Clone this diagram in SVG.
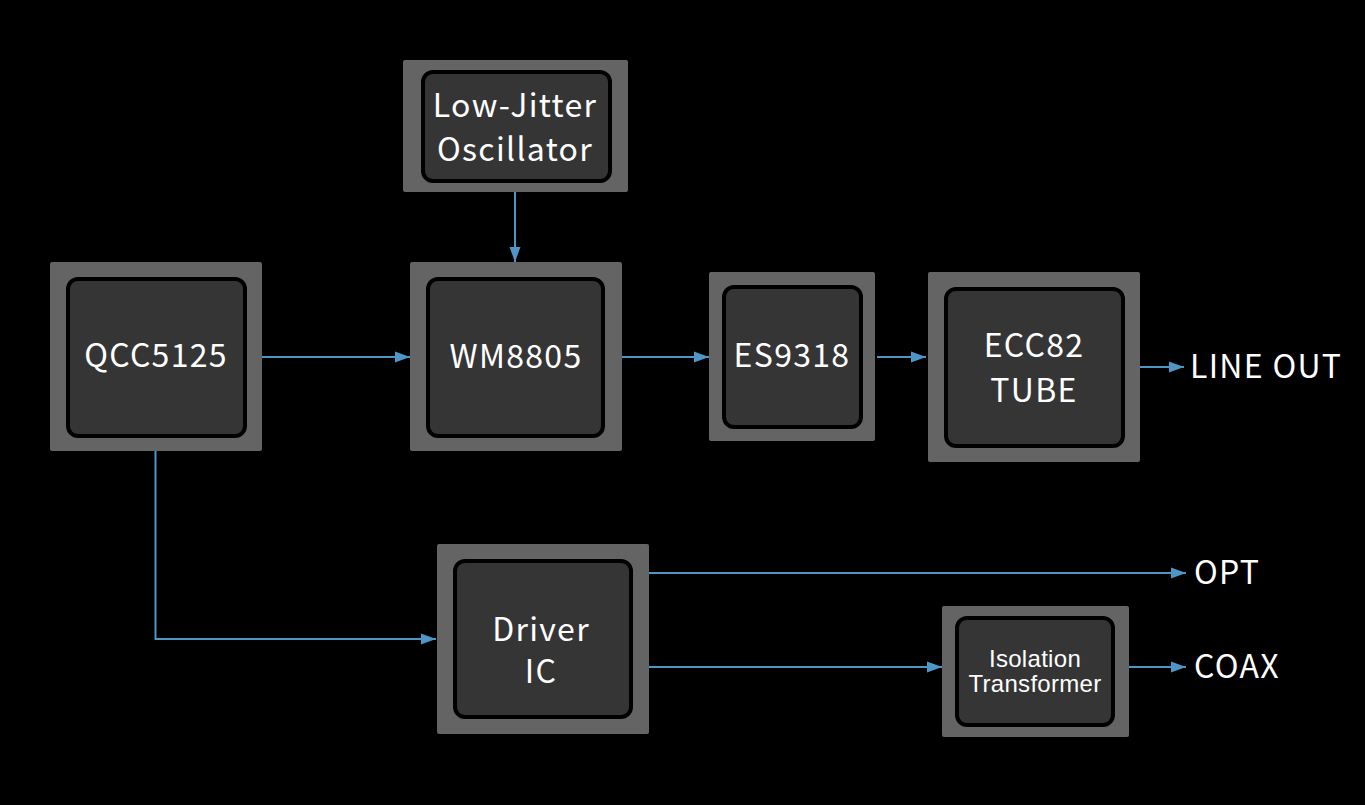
<svg xmlns="http://www.w3.org/2000/svg" width="1365" height="805" viewBox="0 0 1365 805">
<defs>
<marker id="arr" markerUnits="userSpaceOnUse" markerWidth="16" markerHeight="12" refX="15" refY="6" orient="auto">
<path d="M0,0.5 L15,6 L0,11.5 z" fill="#4d96c5"/>
</marker>
</defs>
<style>
.outer{fill:#646464}
.inner{fill:#353535;stroke:#000;stroke-width:4}
.t{font-family:"Noto Sans CJK SC","Noto Sans",sans-serif;font-size:32px;fill:#fff;text-anchor:middle;letter-spacing:1.3px}
.lbl{font-family:"Noto Sans CJK SC","Noto Sans",sans-serif;font-size:32px;fill:#fff;letter-spacing:1.3px}
.s{font-family:"Liberation Sans",Arial,sans-serif;font-size:24px;fill:#fff;text-anchor:middle;letter-spacing:0.3px}
.c{fill:none;stroke:#4d96c5;stroke-width:2}
</style>
<rect width="1365" height="805" fill="#000"/>
<g id="connectors">
<path class="c" d="M515,192 V262" marker-end="url(#arr)"/>
<path class="c" d="M262,357 H410" marker-end="url(#arr)"/>
<path class="c" d="M622,357 H709" marker-end="url(#arr)"/>
<path class="c" d="M877,357 H926" marker-end="url(#arr)"/>
<path class="c" d="M1140,367 H1184" marker-end="url(#arr)"/>
<path class="c" d="M155.5,451 V639 H436" marker-end="url(#arr)"/>
<path class="c" d="M649,573 H1186" marker-end="url(#arr)"/>
<path class="c" d="M649,667 H942" marker-end="url(#arr)"/>
<path class="c" d="M1129,667 H1186" marker-end="url(#arr)"/>
</g>
<g id="osc">
<rect class="outer" x="403" y="60" width="225" height="132" rx="2"/>
<rect class="inner" x="423" y="72" width="187" height="109" rx="10"/>
<text class="t" x="515" y="117">Low-Jitter</text>
<text class="t" x="515" y="161">Oscillator</text>
</g>
<g id="qcc">
<rect class="outer" x="50" y="262" width="212" height="189" rx="2"/>
<rect class="inner" x="68" y="279" width="177" height="157" rx="10"/>
<text class="t" x="156" y="367">QCC5125</text>
</g>
<g id="wm">
<rect class="outer" x="410" y="262" width="212" height="189" rx="2"/>
<rect class="inner" x="428" y="279" width="175" height="157" rx="10"/>
<text class="t" x="516" y="368">WM8805</text>
</g>
<g id="es">
<rect class="outer" x="709" y="272" width="166" height="169" rx="2"/>
<rect class="inner" x="724" y="287" width="137" height="140" rx="10"/>
<text class="t" x="792" y="367">ES9318</text>
</g>
<g id="ecc">
<rect class="outer" x="928" y="272" width="212" height="190" rx="2"/>
<rect class="inner" x="946" y="289" width="177" height="157" rx="10"/>
<text class="t" x="1034" y="357">ECC82</text>
<text class="t" x="1034" y="402">TUBE</text>
</g>
<g id="driver">
<rect class="outer" x="437" y="544" width="212" height="190" rx="2"/>
<rect class="inner" x="455" y="561" width="176" height="156" rx="10"/>
<text class="t" x="541" y="641">Driver</text>
<text class="t" x="541" y="683">IC</text>
</g>
<g id="iso">
<rect class="outer" x="942" y="606" width="187" height="131" rx="2"/>
<rect class="inner" x="957" y="618" width="156" height="107" rx="10"/>
<text class="s" x="1035" y="667">Isolation</text>
<text class="s" x="1035" y="692">Transformer</text>
</g>
<g id="outputs">
<text class="lbl" x="1190" y="378">LINE OUT</text>
<text class="lbl" x="1194" y="584">OPT</text>
<text class="lbl" x="1194" y="678">COAX</text>
</g>
</svg>
